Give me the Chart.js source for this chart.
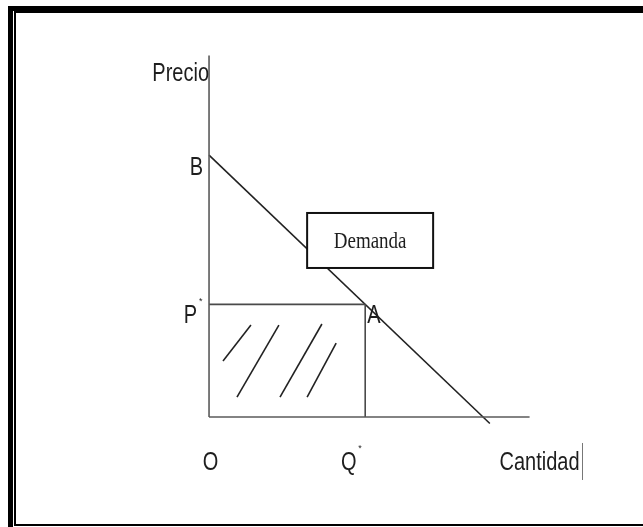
<!DOCTYPE html>
<html>
<head>
<meta charset="utf-8">
<script src="https://cdn.jsdelivr.net/npm/chart.js@4.4.0/dist/chart.umd.min.js"></script>
<style>
  html, body { margin: 0; padding: 0; background: #fff; }
  canvas { display: block; }
</style>
</head>
<body>
<canvas id="demandChart" width="643" height="527"></canvas>
<script>
// demand curve P = 10 - Q (drawn a little past the quantity axis, as in the sketch)
const demandQ = [0, 10.25];
const demandP = [10, -0.25];
const qStar = 5.7;
const pStar = 4.3;
const axisQ = [0, 11.7];
const axisP = [0, 13.8];
// hand drawn hatch strokes inside the rectangle O-P*-A-Q*
const hatchQ = [[0.51, 1.53], [1.02, 2.55], [2.59, 4.12], [3.58, 4.64]];
const hatchP = [[2.14, 3.51], [0.76, 3.51], [0.76, 3.55], [0.76, 2.82]];
const demandBox = { q: 5.88, p: 6.72, text: "Demanda" };

function seg(xs, ys, color, width) {
  return {
    data: xs.map((x, i) => ({ x: x, y: ys[i] })),
    showLine: true,
    borderColor: color,
    borderWidth: width,
    pointRadius: 0,
    fill: false
  };
}

const datasets = [
  seg([0, 0], axisP, "#5a5a5a", 1.6),
  seg(axisQ, [0, 0], "#5a5a5a", 1.6),
  seg([0, qStar], [pStar, pStar], "#4a4a4a", 1.6),
  seg([qStar, qStar], [0, pStar], "#4a4a4a", 1.6),
  seg(demandQ, demandP, "#222", 1.6)
];
hatchQ.forEach((q, i) => datasets.push(seg(q, hatchP[i], "#222", 1.6)));

function stretchedText(ctx, text, x, y, opts) {
  ctx.save();
  ctx.font = opts.font;
  ctx.fillStyle = opts.color || "#1e1e1e";
  ctx.textAlign = opts.align || "left";
  ctx.textBaseline = "middle";
  ctx.translate(x, y);
  ctx.scale(1, opts.stretch || 1.33);
  ctx.fillText(text, 0, 0);
  ctx.restore();
}

const sketchPlugin = {
  id: "sketch",
  afterDatasetsDraw(chart) {
    const ctx = chart.ctx;
    const xs = chart.scales.x, ys = chart.scales.y;
    const x0 = xs.getPixelForValue(0), y0 = ys.getPixelForValue(0);
    const xq = xs.getPixelForValue(qStar), yp = ys.getPixelForValue(pStar);
    const sans = "20px 'Liberation Sans', Arial, sans-serif";
    const star = "9px 'Liberation Sans', Arial, sans-serif";

    // Demanda box
    const bx = xs.getPixelForValue(demandBox.q), by = ys.getPixelForValue(demandBox.p);
    ctx.save();
    ctx.fillStyle = "#fff";
    ctx.fillRect(bx - 63, by - 28, 126, 55);
    ctx.strokeStyle = "#111";
    ctx.lineWidth = 2;
    ctx.strokeRect(bx - 63, by - 28, 126, 55);
    ctx.restore();
    stretchedText(ctx, demandBox.text, bx, by + 1, { font: "19px 'Liberation Serif', 'Times New Roman', serif", align: "center", stretch: 1.2 });

    stretchedText(ctx, "Precio", x0, ys.getPixelForValue(axisP[1]) + 18, { font: sans, align: "right" });
    stretchedText(ctx, "B", x0 - 6, ys.getPixelForValue(10) + 13, { font: sans, align: "right" });
    stretchedText(ctx, "P", x0 - 12, yp + 11, { font: sans, align: "right" });
    stretchedText(ctx, "*", x0 - 10, yp - 3, { font: star, align: "left", stretch: 1 });
    stretchedText(ctx, "A", xq + 2, yp + 11, { font: sans, align: "left" });
    stretchedText(ctx, "O", x0 + 1.5, y0 + 46, { font: sans, align: "center" });
    stretchedText(ctx, "Q", xq - 16.5, y0 + 46, { font: sans, align: "center" });
    stretchedText(ctx, "*", xq - 7, y0 + 32, { font: star, align: "left", stretch: 1 });
    stretchedText(ctx, "Cantidad", xs.getPixelForValue(axisQ[1]) + 50, y0 + 46, { font: sans, align: "right" });

    ctx.save();
    ctx.strokeStyle = "#777";
    ctx.lineWidth = 1;
    ctx.beginPath();
    ctx.moveTo(582.5, y0 + 26);
    ctx.lineTo(582.5, y0 + 63);
    ctx.stroke();
    ctx.restore();
  },
  afterDraw(chart) {
    // double page frame
    const ctx = chart.ctx;
    ctx.save();
    ctx.fillStyle = "#000";
    ctx.fillRect(8, 6, 635, 5);
    ctx.fillRect(8, 6, 5, 521);
    ctx.fillRect(14, 11, 629, 2);
    ctx.fillRect(14, 11, 2, 515);
    ctx.fillRect(14, 524, 629, 2);
    ctx.restore();
  }
};

new Chart(document.getElementById("demandChart"), {
  type: "scatter",
  data: { datasets: datasets },
  options: {
    responsive: false,
    animation: false,
    layout: { padding: 0 },
    plugins: { legend: { display: false }, tooltip: { enabled: false } },
    scales: {
      x: { type: "linear", display: false, min: -7.63, max: 15.84 },
      y: { type: "linear", display: false, min: -4.2, max: 15.92 }
    }
  },
  plugins: [sketchPlugin]
});
</script>
</body>
</html>
